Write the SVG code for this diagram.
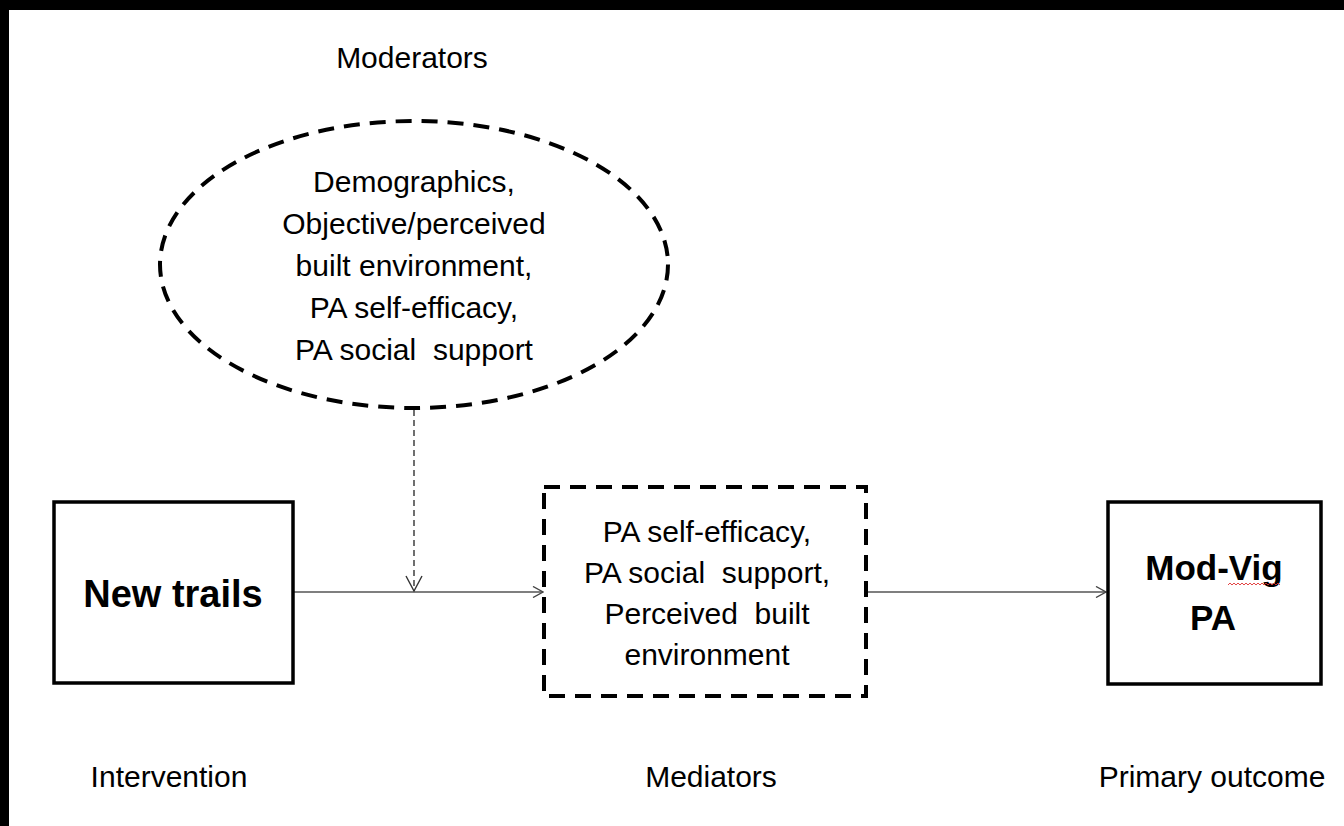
<svg xmlns="http://www.w3.org/2000/svg" width="1344" height="826" viewBox="0 0 1344 826">
  <style>
    text { font-family: "Liberation Sans", Arial, sans-serif; fill: #000; text-anchor: middle; white-space: pre; }
    .lbl { font-size: 30px; }
    .big { font-size: 38px; font-weight: bold; }
    .out { font-size: 35px; font-weight: bold; }
    .solid { fill: #fff; stroke: #000; stroke-width: 3.5; }
    .dash { fill: #fff; stroke: #000; stroke-width: 4; stroke-dasharray: 16 10; }
    .link { fill: none; stroke: #555; stroke-width: 1.6; }
    .mod { fill: none; stroke: #222; stroke-width: 1.3; stroke-dasharray: 6 4; }
  </style>
  <defs>
    <marker id="open" viewBox="0 0 12 12" refX="11" refY="6" markerWidth="12" markerHeight="12" markerUnits="userSpaceOnUse" orient="auto">
      <path d="M1,0.5 L11,6 L1,11.5" fill="none" stroke="#444" stroke-width="1.4"/>
    </marker>
    <marker id="openv" viewBox="0 0 18 18" refX="16" refY="9" markerWidth="18" markerHeight="18" markerUnits="userSpaceOnUse" orient="auto">
      <path d="M1,1 L16,9 L1,17" fill="none" stroke="#333" stroke-width="1.4"/>
    </marker>
  </defs>

  <rect x="0" y="0" width="1344" height="826" fill="#fff"/>
  <!-- frame edges -->
  <rect x="0" y="0" width="1344" height="10" fill="#000"/>
  <rect x="0" y="0" width="9" height="826" fill="#000"/>

  <text class="lbl" x="412" y="68">Moderators</text>

  <g id="connectors">
    <line class="link" x1="294" y1="592" x2="543" y2="592" marker-end="url(#open)"/>
    <line class="link" x1="866" y1="592" x2="1106" y2="592" marker-end="url(#open)"/>
    <line class="mod" x1="414" y1="410" x2="414" y2="591" marker-end="url(#openv)"/>
  </g>

  <g id="moderators">
    <ellipse class="dash" cx="414" cy="264.5" rx="254" ry="143.5"/>
    <text class="lbl" x="414" y="192">Demographics,</text>
    <text class="lbl" x="414" y="234">Objective/perceived</text>
    <text class="lbl" x="414" y="276">built environment,</text>
    <text class="lbl" x="414" y="318">PA self-efficacy,</text>
    <text class="lbl" x="414" y="360" xml:space="preserve">PA social  support</text>
  </g>

  <g id="intervention">
    <rect class="solid" x="54" y="502" width="239" height="181"/>
    <text class="big" x="173" y="607">New trails</text>
  </g>

  <g id="mediators">
    <rect class="dash" x="544" y="487" width="322" height="209" fill="none"/>
    <text class="lbl" x="707" y="542">PA self-efficacy,</text>
    <text class="lbl" x="707" y="583" xml:space="preserve">PA social  support,</text>
    <text class="lbl" x="707" y="624" xml:space="preserve">Perceived  built</text>
    <text class="lbl" x="707" y="665">environment</text>
  </g>

  <g id="outcome">
    <rect class="solid" x="1108" y="502" width="213" height="182"/>
    <text class="out" x="1214" y="580">Mod-Vig</text>
    <path d="M1228,585 l2,-2 l2,2 l2,-2 l2,2 l2,-2 l2,2 l2,-2 l2,2 l2,-2 l2,2 l2,-2 l2,2 l2,-2 l2,2 l2,-2 l2,2 l2,-2 l2,2 l2,-2 l2,2 l2,-2 l2,2 l2,-2 l2,2 l2,-2 l2,2" fill="none" stroke="#e03030" stroke-width="0.9"/>
    <text class="out" x="1213" y="630">PA</text>
  </g>

  <text class="lbl" x="169" y="787">Intervention</text>
  <text class="lbl" x="711" y="787">Mediators</text>
  <text class="lbl" x="1212" y="787">Primary outcome</text>
</svg>
